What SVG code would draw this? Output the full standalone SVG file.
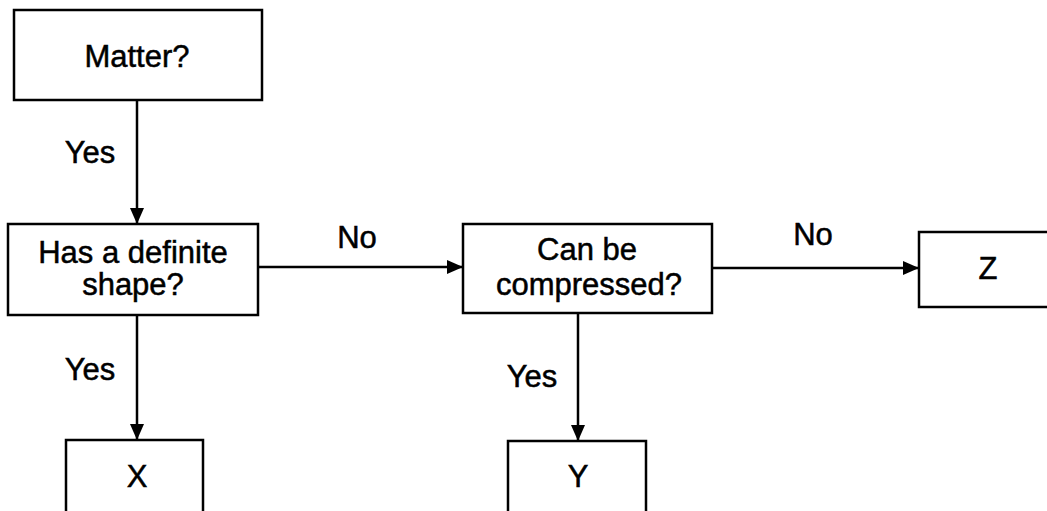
<svg xmlns="http://www.w3.org/2000/svg" width="1047" height="511" viewBox="0 0 1047 511">
<defs>
<marker id="ah" viewBox="0 0 16 14" refX="16" refY="7" markerWidth="16" markerHeight="14" markerUnits="userSpaceOnUse" orient="auto">
<path d="M0,0 L16,7 L0,14 Z" fill="#000"/>
</marker>
<style>
.box{fill:#fff;stroke:#000;stroke-width:2.5}
.t{font-family:"Liberation Sans",Arial,sans-serif;font-size:31px;fill:#000;stroke:#000;stroke-width:0.5;text-anchor:middle}
.c{fill:none;stroke:#000;stroke-width:2.5}
</style>
</defs>
<rect width="1047" height="511" fill="#fff"/>
<g id="connectors">
<line class="c" x1="137" y1="100" x2="137" y2="224" marker-end="url(#ah)"/>
<line class="c" x1="258" y1="267" x2="463" y2="267" marker-end="url(#ah)"/>
<line class="c" x1="712" y1="268" x2="919" y2="268" marker-end="url(#ah)"/>
<line class="c" x1="137" y1="315" x2="137" y2="440" marker-end="url(#ah)"/>
<line class="c" x1="578" y1="313" x2="578" y2="441" marker-end="url(#ah)"/>
<text class="t" x="90" y="163">Yes</text>
<text class="t" x="357" y="248">No</text>
<text class="t" x="813" y="245">No</text>
<text class="t" x="90" y="380">Yes</text>
<text class="t" x="532" y="387">Yes</text>
</g>
<g id="matter">
<rect class="box" x="14" y="10" width="248" height="90"/>
<text class="t" x="137" y="67">Matter?</text>
</g>
<g id="shape">
<rect class="box" x="8" y="224" width="250" height="91"/>
<text class="t" x="133" y="263">Has a definite</text>
<text class="t" x="133" y="295">shape?</text>
</g>
<g id="compressed">
<rect class="box" x="463" y="224" width="249" height="89"/>
<text class="t" x="587" y="260">Can be</text>
<text class="t" x="589" y="295">compressed?</text>
</g>
<g id="z">
<rect class="box" x="919" y="232" width="140" height="75"/>
<text class="t" x="988" y="279">Z</text>
</g>
<g id="x">
<rect class="box" x="66" y="440" width="137" height="80"/>
<text class="t" x="137" y="487">X</text>
</g>
<g id="y">
<rect class="box" x="508" y="441" width="138" height="80"/>
<text class="t" x="578" y="487">Y</text>
</g>
</svg>
